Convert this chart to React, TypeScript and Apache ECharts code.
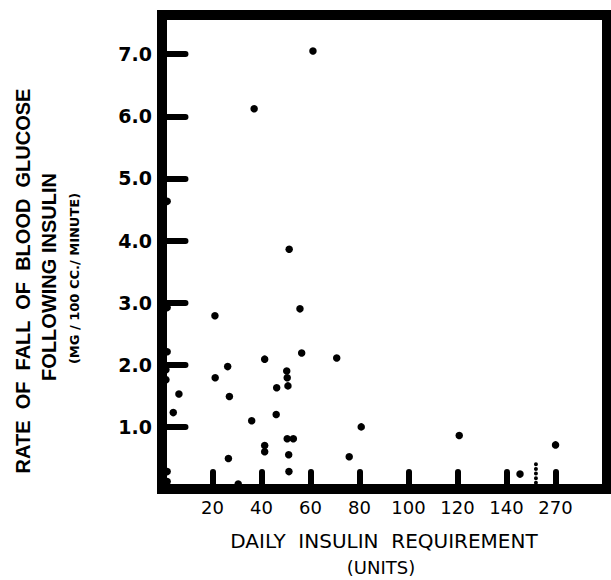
import React, { useEffect, useRef } from "react";
import * as echarts from "echarts";

// Daily insulin requirement (units) and rate of fall of blood glucose (mg/100cc/min)
const insulinUnits = [
  61, 37, 1.5, 51.3, 1.5, 21, 55.7, 56.4, 1.5, 41.3, 70.7, 26.2, 1, 50.3, 21.1,
  50.5, 1, 50.8, 46.2, 6.3, 26.9, 4, 46, 36, 80.7, 120.7, 50.5, 53, 270, 41.3,
  41.3, 51.1, 75.8, 26.5, 1.5, 51.2, 145.5, 1.5, 30.5,
];
const fallRate = [
  7.05, 6.12, 4.63, 3.86, 2.92, 2.79, 2.9, 2.19, 2.21, 2.09, 2.11, 1.97, 1.92,
  1.9, 1.79, 1.79, 1.76, 1.66, 1.63, 1.53, 1.49, 1.23, 1.2, 1.1, 1.0, 0.86,
  0.81, 0.81, 0.71, 0.7, 0.6, 0.55, 0.52, 0.49, 0.28, 0.28, 0.24, 0.12, 0.08,
];

const xTickValues = [20, 40, 60, 80, 100, 120, 140, 160];
const xTickLabels = ["20", "40", "60", "80", "100", "120", "140", "270"];
const yTickValues = [1, 2, 3, 4, 5, 6, 7];
const yTickLabels = ["1.0", "2.0", "3.0", "4.0", "5.0", "6.0", "7.0"];

// broken axis: 270 units is drawn at the 160 position
const brokenValue = 270;
const brokenPosition = 160;
const breakMarkX = 152;
const breakMarkY = [0.1, 0.46];

const axisPos = (v: number) => (v === brokenValue ? brokenPosition : v);

export default function App() {
  const ref = useRef<HTMLDivElement>(null);
  useEffect(() => {
    if (!ref.current) return;
    const chart = echarts.init(ref.current, null, { renderer: "svg" });
    const points = insulinUnits.map((u, i) => [axisPos(u), fallRate[i]]);
    chart.setOption({
      animation: false,
      backgroundColor: "#ffffff",
      grid: {
        left: 162,
        top: 15,
        width: 445,
        height: 474,
        show: true,
        borderColor: "#000",
        borderWidth: 10,
        backgroundColor: "transparent",
      },
      xAxis: {
        type: "value",
        min: -0.6,
        max: 181,
        splitLine: { show: false },
        axisLine: { show: false },
        axisTick: {
          show: true,
          inside: true,
          length: 17,
          customValues: xTickValues,
          lineStyle: { color: "#000", width: 6, cap: "round" },
        },
        axisLabel: {
          customValues: xTickValues,
          margin: 9,
          color: "#000",
          fontFamily: "DejaVu Sans",
          fontSize: 18,
          formatter: (v: number) => {
            const i = xTickValues.indexOf(v);
            return i >= 0 ? xTickLabels[i] : "";
          },
        },
      },
      yAxis: {
        type: "value",
        min: 0,
        max: 7.63,
        splitLine: { show: false },
        axisLine: { show: false },
        axisTick: {
          show: true,
          inside: true,
          length: 22,
          customValues: yTickValues,
          lineStyle: { color: "#000", width: 6, cap: "round" },
        },
        axisLabel: {
          customValues: yTickValues,
          margin: 10,
          color: "#000",
          fontFamily: "DejaVu Sans",
          fontWeight: "bold",
          fontSize: 19,
          formatter: (v: number) => {
            const i = yTickValues.indexOf(v);
            return i >= 0 ? yTickLabels[i] : "";
          },
        },
      },
      series: [
        {
          type: "scatter",
          data: points,
          symbol: "circle",
          symbolSize: 7.5,
          itemStyle: { color: "#000", opacity: 1 },
          clip: false,
          z: 5,
        },
        {
          type: "line",
          data: breakMarkY.map((y) => [breakMarkX, y]),
          symbol: "none",
          lineStyle: { color: "#000", width: 4, type: [0.01, 4.6], cap: "round", opacity: 1 },
          z: 4,
        },
      ],
      graphic: [
        {
          type: "text",
          x: 22.5,
          y: 281,
          rotation: Math.PI / 2,
          style: {
            text: "RATE  OF  FALL  OF  BLOOD  GLUCOSE",
            fontFamily: "Liberation Sans",
            fontWeight: "bold",
            fontSize: 20,
            fill: "#000",
            align: "center",
            verticalAlign: "middle",
          },
        },
        {
          type: "text",
          x: 49,
          y: 277,
          rotation: Math.PI / 2,
          style: {
            text: "FOLLOWING INSULIN",
            fontFamily: "Liberation Sans",
            fontWeight: "bold",
            fontSize: 20,
            fill: "#000",
            align: "center",
            verticalAlign: "middle",
          },
        },
        {
          type: "text",
          x: 74,
          y: 278.5,
          rotation: Math.PI / 2,
          style: {
            text: "(MG / 100 CC./ MINUTE)",
            fontFamily: "DejaVu Sans",
            fontWeight: "bold",
            fontSize: 13,
            fill: "#000",
            align: "center",
            verticalAlign: "middle",
          },
        },
        {
          type: "text",
          x: 384,
          y: 540.5,
          style: {
            text: "DAILY  INSULIN  REQUIREMENT",
            fontFamily: "DejaVu Sans",
            fontSize: 20,
            fill: "#000",
            align: "center",
            verticalAlign: "middle",
          },
        },
        {
          type: "text",
          x: 381,
          y: 567,
          style: {
            text: "(UNITS)",
            fontFamily: "DejaVu Sans",
            fontSize: 18,
            fill: "#000",
            align: "center",
            verticalAlign: "middle",
          },
        },
      ],
    });
    return () => chart.dispose();
  }, []);
  return (
    <div
      ref={ref}
      style={{ position: "absolute", left: 0, top: 0, width: 611, height: 580 }}
    />
  );
}
